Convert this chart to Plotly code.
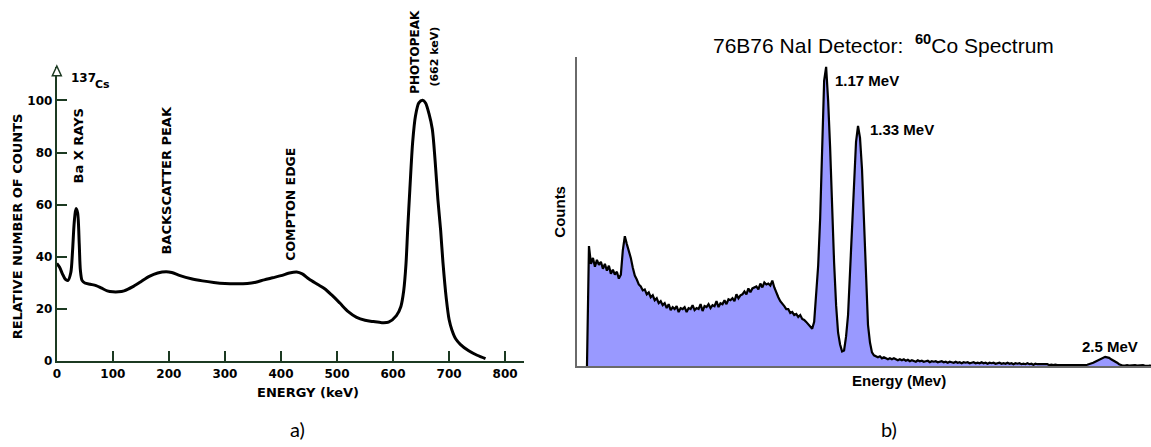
import plotly.graph_objects as go

W, H = 1151, 447

# ---------------- Panel a) 137Cs spectrum ----------------
cs_energy_kev = [0, 5, 10, 15, 20, 25, 28, 31, 34, 37, 40, 42, 45, 50, 60, 70, 80, 90, 100, 110,
                 120, 135, 150, 165, 180, 195, 205, 220, 240, 260, 280, 300, 320, 340, 355, 370,
                 385, 400, 415, 428, 438, 450, 465, 478, 490, 505, 520, 535, 550, 565, 580, 592,
                 606, 614, 619, 623, 626, 630, 635, 640, 646, 653, 658, 664, 670, 675, 680, 685,
                 689, 695, 700, 705, 712, 720, 735, 750, 765]
cs_rel_counts = [37.5, 36, 33.5, 31.5, 31, 34, 42, 53, 58.5, 57, 45, 35, 31, 30, 29.5, 29, 28, 27, 26.6, 26.6,
                 27, 28.5, 30.5, 32.5, 33.8, 34.3, 34, 32.8, 31.6, 30.8, 30.2, 29.8, 29.7, 29.8, 30.3, 31.2,
                 32, 32.8, 33.8, 34.2, 33.5, 31.5, 29.5, 27.8, 25.5, 22.3, 19, 16.8, 15.7, 15.2, 14.8, 15,
                 17.5, 21, 27, 37, 50, 66, 84, 94, 99, 100, 99, 95, 89, 77, 62, 50,
                 38, 24, 16, 12, 8.5, 6.5, 4, 2.3, 1]
cs_xticks = [0, 100, 200, 300, 400, 500, 600, 700, 800]
cs_yticks = [0, 20, 40, 60, 80, 100]

# ---------------- Panel b) 60Co spectrum (relative counts per channel) ----------------
co_counts = [
    0, 122, 104, 110, 101, 108, 103, 106, 99, 104,
    97, 102, 94, 98, 93, 96, 89, 93, 118, 132,
    124, 117, 110, 100, 92, 88, 83, 81, 77, 78,
    73, 75, 70, 72, 67, 69, 64, 66, 62, 64,
    59, 63, 57, 60, 58, 61, 55, 59, 58, 60,
    55, 59, 58, 62, 57, 59, 58, 63, 56, 61,
    60, 63, 59, 62, 61, 66, 60, 64, 63, 67,
    63, 68, 67, 69, 66, 73, 69, 72, 73, 76,
    73, 79, 75, 79, 80, 81, 78, 84, 80, 85,
    83, 84, 82, 87, 80, 74, 70, 66, 64, 61,
    58, 58, 54, 55, 52, 53, 50, 52, 48, 47,
    45, 43, 40, 38, 45, 72, 102, 150, 215, 290,
    304, 270, 222, 160, 105, 62, 34, 22, 15, 16,
    30, 52, 95, 150, 195, 228, 244, 232, 200, 150,
    82, 42, 24, 14, 11, 10, 9, 10, 8, 9,
    8, 7, 8, 7, 8, 7, 6, 7,
    6, 7, 5.5, 6.5, 5, 6, 5.5, 4.5, 6, 5,
    5.5, 4.5, 5, 5.5, 4, 5, 4.5, 5, 4, 4.5,
    5, 4, 4.5, 3.5, 4.5,
    4, 3.5, 4.5, 3.5, 4, 3, 4, 3.5, 4, 3,
    3.5, 4, 3, 3.5, 3, 4, 3, 3.5, 2.5, 3.5,
    3, 3.5, 2.5, 3, 3.5, 2.5, 3, 2.5, 3.5, 2.5,
    3, 2, 3, 2.5,
    3, 2, 2.5, 2, 3, 2, 2.5, 1.5, 2.5, 2,
    2, 1.5, 2, 1.5, 2, 1, 1.5, 1, 1.5, 1,
    1, 0.5, 1, 0.5, 1,
    0.5, 0.5, 1, 0.5, 0.5, 0.5, 1, 0.5, 1,
    1.5, 2, 3, 3.5, 4.5, 5.5,
    6, 7, 8, 9.5, 9,
    8.5, 7, 6, 4.5, 3.5,
    2, 1, 0.5,
    0.5, 1, 0.5, 0.8, 0.4, 1, 0.5, 0.8, 0.5, 1, 0.4, 0.8, 0.5, 0.7,
]
co_channels = list(range(len(co_counts)))


def px(x):
    return x / W


def py(y):
    return 1 - y / H


AX_A = "#1c3a22"
FA = "DejaVu Sans"
FB = "Liberation Sans"

fig = go.Figure()

fig.add_trace(go.Scatter(
    x=cs_energy_kev, y=cs_rel_counts, mode="lines",
    line=dict(color="black", width=3, shape="spline", smoothing=0.8),
    xaxis="x", yaxis="y", showlegend=False, hoverinfo="skip", cliponaxis=False))

fig.add_trace(go.Scatter(
    x=co_channels, y=co_counts, mode="lines", fill="tozeroy",
    fillcolor="#9999ff", line=dict(color="black", width=2.2),
    xaxis="x2", yaxis="y2", showlegend=False, hoverinfo="skip"))

fig.update_layout(
    width=W, height=H, margin=dict(l=0, r=0, t=0, b=0),
    paper_bgcolor="white", plot_bgcolor="white",
    xaxis=dict(domain=[px(53), px(522)], range=[0, 834], tickvals=cs_xticks,
               ticks="inside", ticklen=10, tickwidth=2, tickcolor=AX_A,
               showline=True, linewidth=2, linecolor=AX_A, showgrid=False, zeroline=False,
               tickfont=dict(family=FA, size=12, color="black", weight="bold")),
    yaxis=dict(domain=[py(367), py(68)], range=[0, 112.8], tickvals=cs_yticks,
               ticks="inside", ticklen=10, tickwidth=2, tickcolor=AX_A,
               showline=True, linewidth=2, linecolor=AX_A, showgrid=False, zeroline=False,
               tickfont=dict(family=FA, size=12, color="black", weight="bold")),
    xaxis2=dict(domain=[px(575), 1.0], range=[-5, 283], showticklabels=False, ticks="",
                showline=True, linewidth=1.5, linecolor="#6a6a6a", showgrid=False, zeroline=False,
                anchor="y2"),
    yaxis2=dict(domain=[py(372), py(58)], range=[0, 314], showticklabels=False, ticks="",
                showline=True, linewidth=1.5, linecolor="#6a6a6a", showgrid=False, zeroline=False,
                anchor="x2"),
)

# arrow head on top of panel a y axis
fig.add_shape(type="path", xref="paper", yref="paper",
              path=f"M {px(53)},{py(67)} L {px(48.5)},{py(77)} L {px(57.5)},{py(77)} Z",
              line=dict(color=AX_A, width=1.5), fillcolor="white")

ann = []


def add(text, x, y, size, family, rot=0, bold=False, xanchor="center"):
    ann.append(dict(text=text, x=px(x), y=py(y), xref="paper", yref="paper", showarrow=False,
                    textangle=rot, xanchor=xanchor, yanchor="middle",
                    font=dict(family=family, size=size, color="black",
                              weight="bold" if bold else "normal")))


# panel a labels
add("RELATIVE NUMBER OF COUNTS", 13, 230, 13, FA, rot=-90, bold=True)
add("ENERGY (keV)", 305, 399, 13, FA, bold=True)
add("137", 80, 79, 12, FA, bold=True)
add("Cs", 99, 86, 11, FA, bold=True)
add("Ba X RAYS", 75, 148, 13, FA, rot=-90, bold=True)
add("BACKSCATTER PEAK", 163, 183, 13, FA, rot=-90, bold=True)
add("COMPTON EDGE", 288, 207, 12.5, FA, rot=-90, bold=True)
add("PHOTOPEAK", 413, 53, 12, FA, rot=-90, bold=True)
add("(662 keV)", 432, 57, 11, FA, rot=-90, bold=True)
add("a)", 295, 436, 20, "Lato")

# panel b labels
add("76B76 NaI Detector:  <sup><b>60</b></sup>Co Spectrum", 883, 45, 21, FB)
add("Counts", 558, 215, 15, FB, rot=-90, bold=True)
add("Energy (Mev)", 898, 387, 15, FB, bold=True)
add("1.17 MeV", 832, 82, 15, FB, bold=True, xanchor="left")
add("1.33 MeV", 867, 132, 15, FB, bold=True, xanchor="left")
add("2.5 MeV", 1110, 352, 15, FB, bold=True)
add("b)", 888, 436, 20, "Lato")

fig.update_layout(annotations=ann)

fig.write_html("out.html", config={"displayModeBar": False},
               post_script="document.body.style.margin='0';document.body.style.overflow='hidden';")
